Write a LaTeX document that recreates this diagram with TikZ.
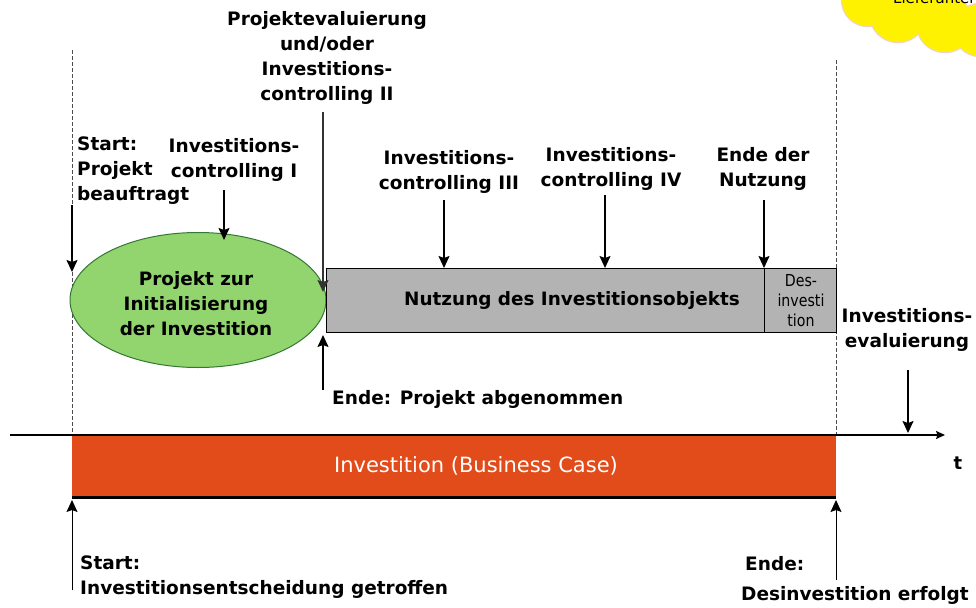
\documentclass[tikz,border=0pt]{standalone}
\usepackage{fontspec}
\setmainfont{DejaVu Sans}
\newfontfamily\condfont[FakeStretch=0.86]{DejaVu Sans}
\usetikzlibrary{arrows.meta,shapes.geometric}
\definecolor{orangebar}{HTML}{E24B1A}
\definecolor{greenell}{HTML}{92D46E}
\definecolor{grayrect}{HTML}{B3B3B3}
\definecolor{cloudline}{HTML}{F2D3C3}
\begin{document}
\begin{tikzpicture}[x=1pt,y=-1pt,
  lbl/.style={font=\fontsize{18.5}{25}\selectfont\bfseries, align=center, inner sep=0pt},
  arr/.style={line width=1.4pt, -{Stealth[length=12pt,width=11pt,inset=2pt]}},
  dline/.style={dash pattern=on 4pt off 2pt, line width=0.8pt, black!70}]
\useasboundingbox (0,0) rectangle (976,607);
% cloud
\begin{scope}
\clip (0,0) rectangle (976,607);
\foreach \cx/\cy/\r in {868/0/26, 898/14/28, 945/24/28, 980/30/26, 920/-5/30}
  \draw[cloudline, line width=2.5pt] (\cx,\cy) circle (\r);
\foreach \cx/\cy/\r in {868/0/26, 898/14/28, 945/24/28, 980/30/26, 920/-5/30}
  \fill[yellow] (\cx,\cy) circle (\r);
\node[anchor=base west, inner sep=0pt, font=\fontsize{15}{18}\selectfont] (cloudtxt) at (893,4) {Lieferanten};
\end{scope}
% dashed lines
\coordinate (dl1t) at (72,50);
\coordinate (dl1b) at (72,435);
\coordinate (dl2t) at (836,60);
\coordinate (dl2b) at (836,435);
\draw[dline] (dl1t) -- (dl1b);
\draw[dline] (dl2t) -- (dl2b);
% orange bar
\node[draw=none, fill=orangebar, minimum width=764pt, minimum height=62pt, inner sep=0pt, anchor=north west] (inv) at (72,435) {};
\draw[line width=3pt] (inv.south west) -- (inv.south east);
\node[font=\fontsize{21}{24}\selectfont, text=white] (invtxt) at (476,466) {Investition (Business Case)};
% axis
\coordinate (ax0) at (10,435);
\coordinate (ax1) at (945,435);
\draw[line width=1.4pt, -{Stealth[length=9pt,width=8pt,inset=1.5pt]}] (ax0) -- (ax1);
\node[font=\fontsize{18}{20}\selectfont\bfseries, inner sep=0pt] (t) at (958,463) {t};
% ellipse
\node[ellipse, draw=black!55!green!60!gray, line width=1pt, fill=greenell, minimum width=256pt, minimum height=135pt, inner sep=0pt] (ell) at (198,300) {};
\node[lbl, font=\fontsize{18.4}{25}\selectfont\bfseries] (elltxt) at (196,304) {Projekt zur\\Initialisierung\\der Investition};
% gray rects
\node[draw, line width=1.4pt, fill=grayrect, minimum width=438pt, minimum height=64pt, inner sep=0pt, anchor=north west] (nutz) at (326,268) {};
\node[font=\fontsize{18.4}{22}\selectfont\bfseries] (nutztxt) at (572,300) {Nutzung des Investitionsobjekts};
\node[draw, line width=1.4pt, fill=grayrect, minimum width=72pt, minimum height=64pt, inner sep=0pt, anchor=north west] (des) at (764,268) {};
\node[font=\condfont\fontsize{16.5}{20}\selectfont, align=center, inner sep=0pt] (destxt) at (801,301) {Des-\\investi\\tion};
% labels
\node[lbl, align=left, anchor=west] (start) at (77,171) {Start:\\Projekt\\beauftragt};
\node[lbl] (c1) at (234,160) {Investitions-\\controlling I};
\node[lbl] (c2) at (327,58) {Projektevaluierung\\und/oder\\Investitions-\\controlling II};
\node[lbl] (c3) at (449,172) {Investitions-\\controlling III};
\node[lbl] (c4) at (611,169) {Investitions-\\controlling IV};
\node[lbl] (en) at (763,169) {Ende der\\Nutzung};
\node[lbl] (ev) at (907,330) {Investitions-\\evaluierung};
\node[lbl, anchor=west] (ep) at (332,399) {Ende: Projekt abgenommen};
\node[lbl, align=left, anchor=west] (bs) at (80,577) {Start:\\Investitionsentscheidung getroffen};
\node[lbl, anchor=west] (be1) at (745,564) {Ende:};
\node[lbl, anchor=west] (be2) at (741,595) {Desinvestition erfolgt};
% arrows
\coordinate (aS0) at (72,205);  \coordinate (aS1) at (72,272);
\coordinate (a10) at (224,190); \coordinate (a11) at (224,240);
\coordinate (a20) at (323,112); \coordinate (a21) at (323,292);
\coordinate (a30) at (444,200); \coordinate (a31) at (444,268);
\coordinate (a40) at (605,195); \coordinate (a41) at (605,268);
\coordinate (aE0) at (764,200); \coordinate (aE1) at (764,268);
\coordinate (aP0) at (323,390); \coordinate (aP1) at (323,335);
\coordinate (aV0) at (908,370); \coordinate (aV1) at (908,433);
\coordinate (aB0) at (72,590);  \coordinate (aB1) at (72,500);
\coordinate (aD0) at (836,580); \coordinate (aD1) at (836,500);
\draw[arr] (aS0) -- (aS1);
\draw[arr] (a10) -- (a11);
\draw[arr, black!80] (a20) -- (a21);
\draw[arr] (a30) -- (a31);
\draw[arr] (a40) -- (a41);
\draw[arr] (aE0) -- (aE1);
\draw[arr] (aP0) -- (aP1);
\draw[arr] (aV0) -- (aV1);
\draw[arr, line width=1pt] (aB0) -- (aB1);
\draw[arr, line width=1pt] (aD0) -- (aD1);
\end{tikzpicture}
\end{document}
